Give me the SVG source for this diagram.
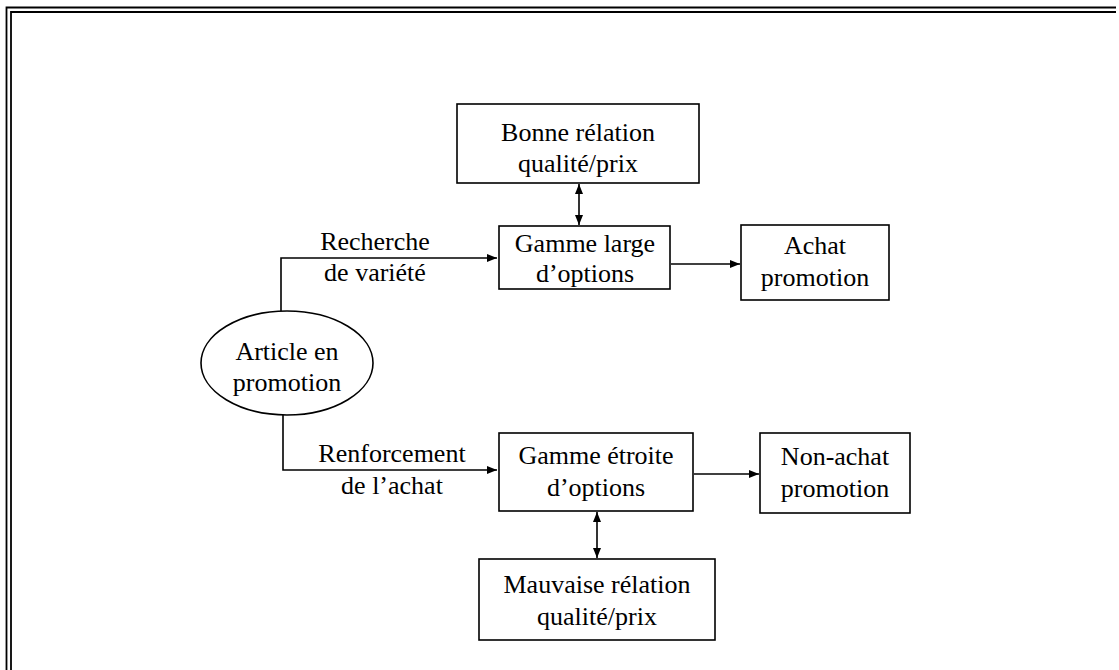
<svg xmlns="http://www.w3.org/2000/svg" width="1119" height="670" viewBox="0 0 1119 670">
<style>
.box{fill:#fff;stroke:#000;stroke-width:1.6}
.t{font-family:"Liberation Serif","Times New Roman",serif;font-size:26px;fill:#000;text-anchor:middle}
.c{fill:none;stroke:#000;stroke-width:1.6}
.fr{stroke:#000;stroke-width:1.8;fill:none}
</style>
<defs>
<marker id="ah" viewBox="0 0 10 8" refX="10" refY="4" markerWidth="10" markerHeight="8" markerUnits="userSpaceOnUse" orient="auto-start-reverse">
<path d="M0,0 L10,4 L0,8 z" fill="#000"/>
</marker>
</defs>
<rect width="1119" height="670" fill="#fff"/>
<g id="frame">
<path class="fr" d="M6.5,670 V7.5 H1116"/>
<path class="fr" d="M11,670 V12 H1116"/>
</g>
<g id="connectors">
<path class="c" d="M281,311 V258 H497" marker-end="url(#ah)"/>
<path class="c" d="M283,415 V470 H497" marker-end="url(#ah)"/>
<path class="c" d="M579,184 V225" marker-start="url(#ah)" marker-end="url(#ah)"/>
<path class="c" d="M597,512 V558" marker-start="url(#ah)" marker-end="url(#ah)"/>
<path class="c" d="M671,264 H740" marker-end="url(#ah)"/>
<path class="c" d="M694,474 H759" marker-end="url(#ah)"/>
</g>
<g id="label-recherche">
<text class="t" x="375" y="250">Recherche</text>
<text class="t" x="375" y="281">de variété</text>
</g>
<g id="label-renforcement">
<text class="t" x="392" y="462">Renforcement</text>
<text class="t" x="392" y="494">de l’achat</text>
</g>
<g id="article">
<ellipse class="box" cx="287" cy="363" rx="86" ry="52"/>
<text class="t" x="287" y="360">Article en</text>
<text class="t" x="287" y="391">promotion</text>
</g>
<g id="bonne">
<rect class="box" x="457" y="104" width="242" height="79"/>
<text class="t" x="578" y="141">Bonne rélation</text>
<text class="t" x="578" y="172">qualité/prix</text>
</g>
<g id="gamme-large">
<rect class="box" x="499" y="226" width="171" height="63"/>
<text class="t" x="585" y="252">Gamme large</text>
<text class="t" x="585" y="282">d’options</text>
</g>
<g id="achat">
<rect class="box" x="741" y="225" width="148" height="75"/>
<text class="t" x="815" y="254">Achat</text>
<text class="t" x="815" y="286">promotion</text>
</g>
<g id="gamme-etroite">
<rect class="box" x="499" y="433" width="194" height="78"/>
<text class="t" x="596" y="464">Gamme étroite</text>
<text class="t" x="596" y="496">d’options</text>
</g>
<g id="non-achat">
<rect class="box" x="760" y="433" width="150" height="80"/>
<text class="t" x="835" y="465">Non-achat</text>
<text class="t" x="835" y="497">promotion</text>
</g>
<g id="mauvaise">
<rect class="box" x="479" y="559" width="236" height="81"/>
<text class="t" x="597" y="593">Mauvaise rélation</text>
<text class="t" x="597" y="625">qualité/prix</text>
</g>
</svg>
